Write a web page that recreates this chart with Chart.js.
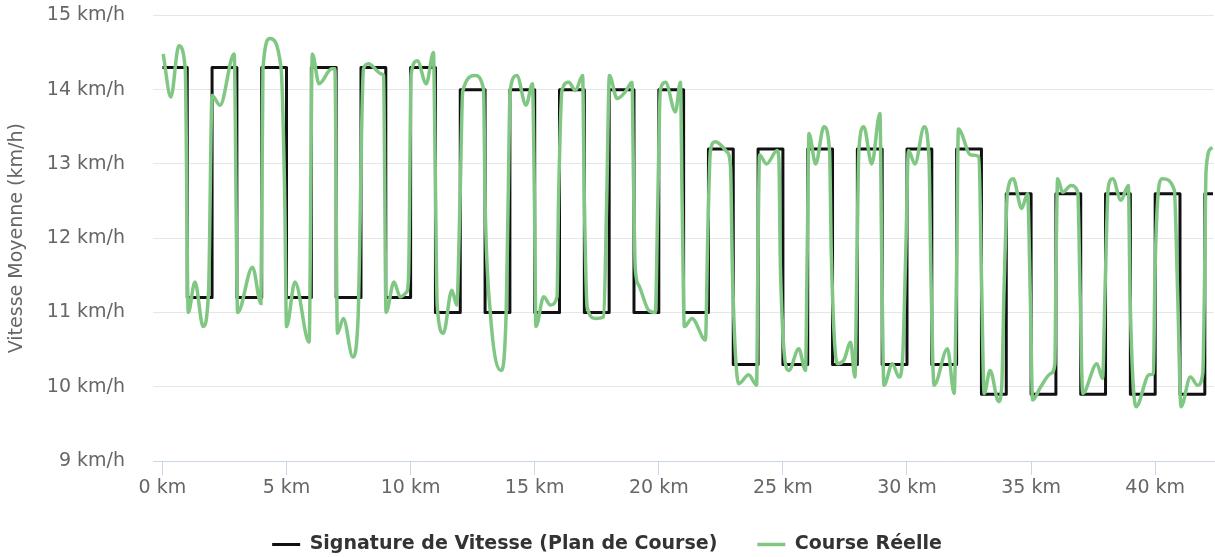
<!DOCTYPE html>
<html>
<head>
<meta charset="utf-8">
<script src="https://cdn.jsdelivr.net/npm/chart.js@4.4.1/dist/chart.umd.min.js"></script>
<style>
  html, body { margin: 0; padding: 0; background: #fff; }
  canvas { display: block; }
</style>
</head>
<body>
<canvas id="speedChart" width="1215" height="557"></canvas>
<script>
// Race plan: one speed per 1 km split (km/h)
const planKm = [0, 1, 2, 3, 4, 5, 6, 7, 8, 9, 10, 11, 12, 13, 14, 15, 16, 17, 18, 19, 20, 21,
  22, 23, 24, 25, 26, 27, 28, 29, 30, 31, 32, 33, 34, 35, 36, 37, 38, 39, 40, 41, 42];
const planSpeed = [14.3, 11.2, 14.3, 11.2, 14.3, 11.2, 14.3, 11.2, 14.3, 11.2, 14.3,
  11.0, 14.0, 11.0, 14.0, 11.0, 14.0, 11.0, 14.0, 11.0, 14.0, 11.0,
  13.2, 10.3, 13.2, 10.3, 13.2, 10.3, 13.2, 10.3, 13.2, 10.3, 13.2,
  9.9, 12.6, 9.9, 12.6, 9.9, 12.6, 9.9, 12.6, 9.9, 12.6];
const raceEndKm = 42.33;

const runKm = [0.03, 0.34, 0.66, 0.92, 1.04, 1.31, 1.64, 1.86, 2.00, 2.32, 2.89, 3.03, 3.63, 3.97,
  4.05, 4.33, 4.78, 4.93, 5.00, 5.34, 5.91, 6.04, 6.31, 6.82, 6.95, 7.05, 7.29, 7.67, 7.88, 8.10, 8.30,
  8.84, 8.91, 9.01, 9.33, 9.58, 9.83, 9.92, 10.02, 10.27, 10.63, 10.92, 10.99, 11.07, 11.32, 11.66, 11.86,
  11.99, 12.10, 12.60, 12.94, 13.00, 13.21, 13.64, 13.85, 13.93, 14.01, 14.28, 14.65, 14.91, 14.99,
  15.05, 15.36, 15.63, 15.90, 15.96, 16.10, 16.37, 16.64, 16.93, 17.00, 17.11, 17.44, 17.78, 17.90,
  18.01, 18.32, 18.65, 18.92, 18.98, 19.05, 19.19, 19.59, 19.86, 19.96, 20.06, 20.27, 20.67, 20.87, 20.94,
  21.03, 21.34, 21.88, 21.97, 22.08, 22.28, 22.75, 22.89, 22.97, 23.22, 23.62, 23.94, 23.99, 24.06,
  24.34, 24.77, 24.84, 24.90, 25.24, 25.64, 25.91, 25.98, 26.05, 26.32, 26.65, 26.88, 26.95, 27.19,
  27.46, 27.73, 27.90, 27.98, 28.06, 28.26, 28.58, 28.91, 28.98, 29.07, 29.41, 29.68, 29.82, 29.95,
  30.06, 30.32, 30.69, 30.89, 30.96, 31.09, 31.63, 31.90, 32.00, 32.07, 32.57, 32.90, 33.00, 33.11,
  33.35, 33.69, 33.82, 33.91, 34.05, 34.28, 34.62, 34.86, 34.97, 35.06, 35.39, 35.80, 35.96, 36.00,
  36.07, 36.27, 36.61, 36.88, 36.98, 37.08, 37.65, 37.88, 37.98, 38.11, 38.29, 38.62, 38.92, 38.99,
  39.23, 39.76, 39.93, 39.99, 40.17, 40.30, 40.77, 40.91, 41.04, 41.42, 41.71, 41.92, 41.98, 42.05,
  42.25, 42.31];
const runSpeed = [14.48, 13.90, 14.59, 14.28, 11.00, 11.41, 10.81, 11.30, 13.92, 13.79, 14.48, 11.00, 11.61, 11.12,
  14.28, 14.69, 14.29, 12.50, 10.81, 11.41, 10.60, 14.48, 14.08, 14.28, 14.28, 10.72, 10.92, 10.40, 10.90, 14.28, 14.35,
  14.21, 14.19, 11.00, 11.41, 11.21, 11.27, 11.50, 14.20, 14.39, 14.08, 14.50, 13.00, 11.10, 10.72, 11.30, 11.10,
  12.50, 13.98, 14.19, 14.00, 12.50, 11.00, 10.22, 11.00, 12.50, 13.99, 14.19, 13.79, 14.08, 12.50,
  10.81, 11.21, 11.10, 11.21, 12.50, 13.99, 14.10, 13.99, 14.19, 12.50, 11.08, 10.92, 10.94, 12.50,
  14.19, 13.88, 13.97, 14.10, 12.80, 11.60, 11.37, 11.03, 11.00, 12.50, 13.99, 14.10, 13.70, 14.10, 12.50,
  10.81, 10.92, 10.63, 12.00, 13.18, 13.30, 13.16, 12.96, 11.50, 10.04, 10.16, 10.02, 11.60, 13.12,
  13.00, 13.18, 13.05, 11.60, 10.22, 10.51, 10.22, 11.80, 13.41, 13.00, 13.50, 13.18, 11.80, 10.31,
  10.36, 10.60, 10.13, 11.60, 13.18, 13.50, 13.00, 13.68, 11.80, 10.02, 10.31, 10.13, 10.36, 11.80,
  13.18, 13.00, 13.50, 13.05, 11.60, 10.02, 10.51, 9.91, 11.60, 13.47, 13.12, 13.10, 11.50, 9.91,
  10.22, 9.80, 10.02, 11.30, 12.62, 12.80, 12.40, 12.60, 11.20, 9.82, 10.00, 10.18, 10.31, 11.50,
  12.80, 12.62, 12.71, 12.62, 11.20, 9.91, 10.31, 10.11, 11.30, 12.69, 12.80, 12.51, 12.71, 11.20,
  9.73, 10.16, 10.18, 11.50, 12.74, 12.80, 12.65, 11.20, 9.73, 10.13, 10.02, 10.18, 11.20, 12.91,
  13.21, 13.22];

const xTicks = [0, 5, 10, 15, 20, 25, 30, 35, 40];
const yTicks = [9, 10, 11, 12, 13, 14, 15];

// Build the step line: each split is held flat until the next km
const planPoints = [];
planKm.forEach((km, i) => {
  const end = i < planKm.length - 1 ? planKm[i + 1] : raceEndKm;
  planPoints.push({ x: km, y: planSpeed[i] });
  planPoints.push({ x: end, y: planSpeed[i] });
});
const runPoints = runKm.map((km, i) => ({ x: km, y: runSpeed[i] }));

Chart.defaults.font.family = '"DejaVu Sans", "Lucida Grande", sans-serif';
Chart.defaults.color = '#666';

const ctx = document.getElementById('speedChart').getContext('2d');
new Chart(ctx, {
  type: 'line',
  data: {
    datasets: [{
      label: 'Signature de Vitesse (Plan de Course)',
      data: planPoints,
      borderColor: '#111',
      backgroundColor: '#111',
      borderWidth: 3,
      tension: 0,
      pointRadius: 0,
      borderJoinStyle: 'round',
      order: 1
    }, {
      label: 'Course Réelle',
      data: runPoints,
      borderColor: '#81c784',
      backgroundColor: '#81c784',
      borderWidth: 3.5,
      cubicInterpolationMode: 'monotone',
      pointRadius: 0,
      order: 0
    }]
  },
  options: {
    responsive: false,
    animation: false,
    layout: { padding: { top: 15, right: 1, bottom: -7, left: 0 } },
    plugins: {
      tooltip: { enabled: false },
      legend: {
        position: 'bottom',
        labels: {
          color: '#333',
          font: { size: 19, weight: 'bold' },
          usePointStyle: true,
          pointStyle: 'line',
          pointStyleWidth: 28,
          padding: 40,
          sort: (a, b) => a.datasetIndex - b.datasetIndex
        }
      }
    },
    scales: {
      x: {
        type: 'linear',
        min: -0.38,
        max: 42.37,
        afterBuildTicks: (axis) => { axis.ticks = xTicks.map(v => ({ value: v })); },
        afterFit: (axis) => { axis.height = 34; },
        grid: { drawOnChartArea: false, color: '#ccd6eb', tickLength: 14 },
        border: { color: '#ccd6eb', width: 1 },
        ticks: {
          font: { size: 19 },
          color: '#666',
          padding: 2,
          maxRotation: 0,
          callback: (v) => `${v} km`
        }
      },
      y: {
        min: 9,
        max: 15,
        afterBuildTicks: (axis) => { axis.ticks = yTicks.map(v => ({ value: v })); },
        afterFit: (axis) => { axis.width = 153; },
        grid: {
          color: (c) => (c.tick && c.tick.value === 9 ? 'rgba(0,0,0,0)' : '#e6e6e6'),
          tickColor: 'rgba(0,0,0,0)',
          tickLength: 24
        },
        border: { display: false },
        title: {
          display: true,
          text: 'Vitesse Moyenne (km/h)',
          color: '#666',
          font: { size: 19 },
          padding: { top: 6, bottom: 0 }
        },
        ticks: {
          font: { size: 19 },
          color: '#666',
          padding: 4,
          callback: (v) => `${v} km/h`
        }
      }
    }
  }
});
</script>
</body>
</html>
